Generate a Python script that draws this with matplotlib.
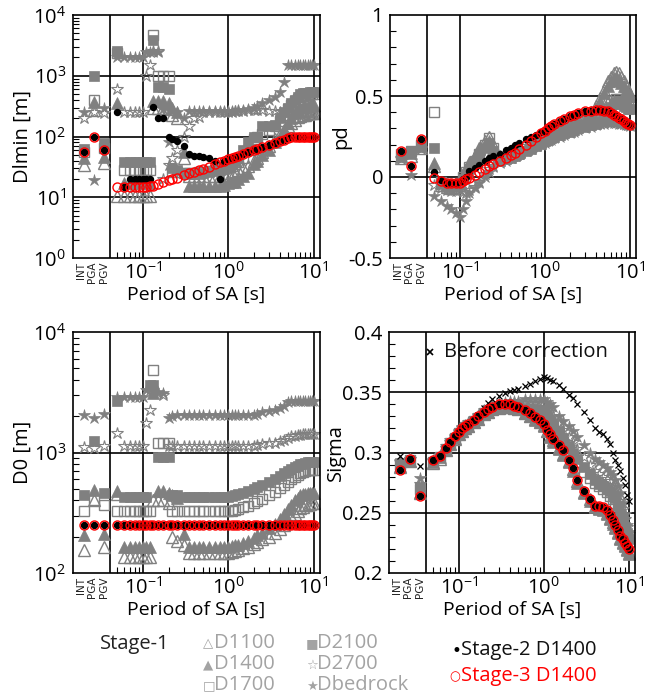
import numpy as np
import matplotlib
matplotlib.use("Agg")
import matplotlib.pyplot as plt
from matplotlib.ticker import FixedLocator, NullFormatter, LogLocator, MultipleLocator

plt.rcParams['font.family'] = ['Open Sans', 'DejaVu Sans']
plt.rcParams['mathtext.default'] = 'regular'
plt.rcParams['axes.unicode_minus'] = False

# SA periods [s]; every series below lists INT, PGA, PGV first, then one value per period
periods = [0.05, 0.06, 0.07, 0.08, 0.09, 0.10, 0.11, 0.12, 0.13, 0.15,
           0.17, 0.20, 0.22, 0.25, 0.30, 0.35, 0.40, 0.45, 0.50, 0.60,
           0.70, 0.80, 0.90, 1.0, 1.1, 1.2, 1.3, 1.5, 1.7, 2.0,
           2.2, 2.5, 3.0, 3.5, 4.0, 4.5, 5.0, 5.5, 6.0, 6.5,
           7.0, 7.5, 8.0, 8.5, 9.0, 9.5, 10.0]
cat_names = ['INT', 'PGA', 'PGV']
stage1_names = ['D1100', 'D1400', 'D1700', 'D2100', 'D2700', 'Dbedrock']

# ---- Dlmin [m]
dlmin_d1100 = [34, 270, 37,
               10.5, 10.5, 10.5, 10.5, 10.5, 10.5, 10.5, 10.5, 290, 290,
               290, 280, 230, 200, 45, 22, 22, 22, 22, 22,
               22, 22, 23, 25, 26, 27, 28, 30, 33, 40,
               45, 55, 70, 90, 110, 130, 150, 170, 190, 210,
               220, 225, 230, 235, 240, 240, 240]
dlmin_d1400 = [45, 370, 46,
               350, 17, 17, 17, 17, 17, 17, 17, 380, 380,
               380, 350, 300, 250, 55, 15.5, 15.5, 15.5, 15.5, 15.5,
               15.5, 15.5, 16, 17, 18, 18, 20, 22, 25, 35,
               40, 50, 60, 80, 100, 130, 170, 200, 240, 270,
               300, 310, 320, 320, 330, 330, 330]
dlmin_d1700 = [55, 400, 65,
               2400, 28, 28, 28, 28, 28, 28, 28, 4700, 1000,
               1000, 1000, 26, 26, 25, 25, 25, 26, 26, 27,
               28, 29, 30, 31, 33, 35, 38, 45, 60, 90,
               100, 110, 130, 150, 180, 230, 280, 330, 380, 420,
               450, 470, 480, 490, 500, 500, 500]
dlmin_d2100 = [62, 1000, 78,
               2600, 38, 38, 38, 38, 38, 38, 38, 3900, 650,
               650, 600, 30, 28, 25, 24, 24, 24, 25, 26,
               27, 28, 29, 30, 35, 40, 45, 60, 80, 100,
               100, 150, 150, 155, 200, 250, 300, 350, 400, 450,
               500, 520, 520, 530, 540, 540, 540]
dlmin_d2700 = [200, 250, 245,
               600, 250, 250, 250, 250, 250, 1000, 1500, 2600, 2600,
               20, 34, 45, 60, 100, 150, 200, 210, 250, 250,
               250, 250, 250, 250, 255, 260, 260, 265, 270, 270,
               270, 270, 265, 260, 255, 250, 245, 240, 240, 240,
               240, 240, 240, 240, 240, 240, 240]
dlmin_bedrock = [255, 19.5, 300,
                 2000, 2000, 2000, 2000, 2000, 2000, 2500, 2500, 2500, 2500,
                 280, 80, 260, 250, 200, 260, 260, 260, 260, 260,
                 260, 260, 260, 260, 260, 265, 270, 275, 280, 300,
                 320, 350, 400, 450, 550, 800, 1500, 1500, 1500, 1500,
                 1500, 1500, 1500, 1500, 1500, 1500, 1500]
dlmin_stage2 = [56, 100, 60,
                250, 15, 20, 20, 20, 20, 20, 20, 310, 205,
                205, 100, 92, 85, 70, 52, 48, 47, 46, 45,
                40, 20, 40, 42, 44, 46, 48, 51, 55, 59,
                62, 66, 72, 78, 84, 89, 93, 97, 100, 100,
                100, 100, 100, 100, 100, 100, 100]
dlmin_stage3 = [56, 100, 60,
                15, 15, 15, 15, 15, 15, 15, 15.5, 15.5, 16.5,
                17.5, 19, 20, 21, 23, 25, 26.5, 28, 29.5, 32,
                35, 37.5, 40, 42, 44, 46, 48, 51, 55, 59,
                62, 66, 72, 78, 84, 89, 93, 97, 100, 100,
                100, 100, 100, 100, 100, 100, 100]

# ---- pd
pd_d1100 = [0.12, 0.13, 0.18,
            0.07, -0.05, -0.06, -0.065, -0.06, -0.04, 0.0, 0.04, 0.08, 0.13,
            0.18, 0.22, 0.25, 0.20, 0.13, 0.13, 0.14, 0.15, 0.16, 0.18,
            0.20, 0.22, 0.235, 0.25, 0.26, 0.27, 0.28, 0.30, 0.31, 0.33,
            0.34, 0.35, 0.37, 0.40, 0.44, 0.49, 0.54, 0.59, 0.62, 0.645,
            0.65, 0.64, 0.62, 0.59, 0.56, 0.53, 0.51]
pd_d1400 = [0.13, 0.15, 0.19,
            0.085, -0.04, -0.05, -0.055, -0.05, -0.03, 0.01, 0.05, 0.09, 0.13,
            0.17, 0.20, 0.22, 0.17, 0.12, 0.125, 0.135, 0.145, 0.155, 0.175,
            0.195, 0.215, 0.23, 0.245, 0.255, 0.265, 0.275, 0.29, 0.305, 0.32,
            0.33, 0.34, 0.36, 0.38, 0.42, 0.47, 0.52, 0.56, 0.59, 0.61,
            0.615, 0.60, 0.58, 0.56, 0.54, 0.52, 0.50]
pd_d1700 = [0.14, 0.16, 0.20,
            0.40, -0.03, -0.045, -0.05, -0.05, -0.035, 0.0, 0.03, 0.06, 0.10,
            0.14, 0.20, 0.24, 0.18, 0.11, 0.12, 0.13, 0.14, 0.15, 0.17,
            0.185, 0.20, 0.215, 0.23, 0.24, 0.25, 0.26, 0.27, 0.28, 0.29,
            0.30, 0.31, 0.32, 0.33, 0.34, 0.36, 0.39, 0.42, 0.45, 0.47,
            0.48, 0.48, 0.47, 0.46, 0.45, 0.44, 0.43]
pd_d2100 = [0.13, 0.16, 0.19,
            0.18, -0.035, -0.05, -0.055, -0.055, -0.04, -0.01, 0.02, 0.05, 0.09,
            0.13, 0.18, 0.21, 0.16, 0.10, 0.11, 0.12, 0.13, 0.14, 0.16,
            0.175, 0.19, 0.205, 0.22, 0.23, 0.24, 0.25, 0.26, 0.27, 0.28,
            0.29, 0.30, 0.31, 0.32, 0.33, 0.345, 0.37, 0.40, 0.43, 0.45,
            0.46, 0.46, 0.45, 0.44, 0.43, 0.42, 0.42]
pd_d2700 = [0.12, 0.14, 0.18,
            -0.05, -0.07, -0.08, -0.085, -0.085, -0.08, -0.09, -0.10, -0.08, -0.06,
            -0.03, 0.02, 0.05, 0.07, 0.09, 0.11, 0.12, 0.135, 0.145, 0.165,
            0.18, 0.195, 0.21, 0.22, 0.23, 0.24, 0.25, 0.26, 0.27, 0.28,
            0.29, 0.30, 0.31, 0.32, 0.33, 0.335, 0.34, 0.345, 0.345, 0.345,
            0.345, 0.34, 0.335, 0.33, 0.325, 0.32, 0.32]
pd_bedrock = [0.11, 0.015, 0.17,
              -0.12, -0.15, -0.18, -0.20, -0.22, -0.245, -0.20, -0.15, -0.10, -0.07,
              -0.04, 0.0, 0.03, 0.06, 0.085, 0.10, 0.115, 0.13, 0.14, 0.16,
              0.175, 0.19, 0.20, 0.21, 0.22, 0.23, 0.24, 0.25, 0.26, 0.27,
              0.28, 0.29, 0.30, 0.31, 0.32, 0.325, 0.33, 0.335, 0.335, 0.335,
              0.335, 0.33, 0.33, 0.325, 0.32, 0.32, 0.315]
pd_stage2 = [0.158, 0.065, 0.232,
             0.03, -0.02, -0.035, -0.04, -0.04, -0.03, -0.015, 0.0, 0.035, 0.055,
             0.075, 0.10, 0.115, 0.13, 0.145, 0.165, 0.18, 0.195, 0.21, 0.235,
             0.25, 0.26, 0.275, 0.287, 0.30, 0.315, 0.325, 0.345, 0.36, 0.375,
             0.385, 0.395, 0.405, 0.41, 0.415, 0.415, 0.41, 0.405, 0.395, 0.385,
             0.375, 0.365, 0.355, 0.345, 0.335, 0.325, 0.32]
pd_stage3 = [0.158, 0.065, 0.232,
             -0.005, -0.025, -0.035, -0.04, -0.04, -0.035, -0.025, -0.015, -0.005, 0.01,
             0.03, 0.05, 0.065, 0.08, 0.10, 0.115, 0.135, 0.15, 0.17, 0.20,
             0.225, 0.25, 0.27, 0.287, 0.30, 0.315, 0.325, 0.345, 0.36, 0.375,
             0.385, 0.395, 0.405, 0.41, 0.415, 0.415, 0.41, 0.405, 0.395, 0.385,
             0.375, 0.365, 0.355, 0.345, 0.335, 0.325, 0.32]

# ---- D0 [m]
d0_d1100 = [155, 400, 165,
            450, 135, 135, 135, 135, 135, 135, 135, 400, 400,
            400, 380, 200, 185, 170, 147, 147, 147, 147, 147,
            147, 147, 147, 147, 150, 152, 155, 160, 165, 175,
            180, 190, 200, 215, 230, 250, 270, 290, 310, 330,
            345, 355, 365, 370, 375, 378, 380]
d0_d1400 = [205, 490, 210,
            480, 165, 165, 165, 165, 165, 165, 165, 3100, 480,
            480, 460, 440, 420, 210, 165, 165, 165, 165, 165,
            165, 165, 165, 165, 167, 170, 172, 178, 185, 195,
            205, 215, 235, 255, 280, 310, 340, 370, 400, 420,
            440, 450, 455, 460, 460, 460, 460]
d0_d1700 = [330, 400, 370,
            325, 325, 325, 325, 325, 325, 325, 325, 4800, 1200,
            1200, 1200, 330, 325, 325, 325, 325, 325, 325, 325,
            325, 325, 325, 325, 330, 335, 340, 350, 360, 380,
            395, 410, 440, 470, 510, 540, 570, 600, 630, 650,
            670, 690, 700, 710, 715, 720, 720]
d0_d2100 = [440, 1250, 460,
            2700, 430, 430, 430, 430, 430, 430, 3600, 3600, 920,
            920, 920, 440, 440, 430, 430, 430, 430, 430, 430,
            430, 430, 430, 430, 435, 440, 450, 460, 475, 500,
            520, 540, 570, 600, 640, 670, 700, 730, 760, 780,
            800, 810, 820, 830, 840, 840, 840]
d0_d2700 = [1120, 1080, 1130,
            1450, 1130, 1130, 1130, 1130, 1130, 1750, 2250, 3100, 3100,
            3000, 1130, 1130, 1130, 1130, 1130, 1130, 1130, 1130, 1130,
            1130, 1130, 1130, 1130, 1130, 1130, 1130, 1130, 1130, 1130,
            1150, 1170, 1190, 1210, 1240, 1280, 1320, 1360, 1380, 1400,
            1410, 1420, 1420, 1420, 1420, 1420, 1420]
d0_bedrock = [2050, 1950, 2100,
              2900, 2900, 2900, 2900, 2900, 2900, 3300, 3300, 3300, 3200,
              3100, 1950, 2000, 2050, 2050, 2050, 2050, 2050, 2050, 2050,
              2050, 2050, 2050, 2050, 2050, 2050, 2050, 2050, 2050, 2050,
              2100, 2150, 2200, 2250, 2350, 2450, 2600, 2700, 2700, 2700,
              2700, 2700, 2700, 2700, 2700, 2700, 2700]
d0_stage2 = [250] * 50
d0_stage3 = [250] * 50

# ---- Sigma
sigma_d1100 = [0.288, 0.293, 0.266,
               0.291, 0.295, 0.302, 0.307, 0.311, 0.315, 0.318, 0.320, 0.322, 0.325,
               0.328, 0.332, 0.334, 0.336, 0.337, 0.338, 0.338, 0.337, 0.336, 0.333,
               0.330, 0.328, 0.325, 0.323, 0.318, 0.314, 0.310, 0.304, 0.299, 0.293,
               0.286, 0.276, 0.267, 0.261, 0.256, 0.254, 0.253, 0.250, 0.246, 0.242,
               0.238, 0.234, 0.229, 0.226, 0.223, 0.220, 0.217]
sigma_d1400 = [0.289, 0.293, 0.267,
               0.292, 0.296, 0.302, 0.307, 0.312, 0.315, 0.318, 0.320, 0.322, 0.325,
               0.328, 0.332, 0.334, 0.336, 0.337, 0.338, 0.338, 0.337, 0.336, 0.333,
               0.330, 0.327, 0.325, 0.322, 0.318, 0.313, 0.309, 0.303, 0.298, 0.292,
               0.285, 0.275, 0.266, 0.260, 0.255, 0.253, 0.252, 0.249, 0.245, 0.241,
               0.237, 0.233, 0.228, 0.225, 0.222, 0.219, 0.216]
sigma_d1700 = [0.290, 0.294, 0.270,
               0.292, 0.296, 0.303, 0.308, 0.312, 0.316, 0.319, 0.321, 0.323, 0.326,
               0.329, 0.333, 0.335, 0.337, 0.338, 0.338, 0.338, 0.338, 0.337, 0.336,
               0.335, 0.334, 0.333, 0.333, 0.329, 0.325, 0.321, 0.315, 0.309, 0.302,
               0.297, 0.292, 0.284, 0.279, 0.275, 0.272, 0.270, 0.267, 0.264, 0.261,
               0.258, 0.252, 0.246, 0.240, 0.235, 0.230, 0.226]
sigma_d2100 = [0.291, 0.294, 0.271,
               0.292, 0.296, 0.303, 0.308, 0.312, 0.316, 0.319, 0.321, 0.323, 0.326,
               0.329, 0.333, 0.335, 0.337, 0.338, 0.339, 0.339, 0.339, 0.338, 0.337,
               0.336, 0.336, 0.335, 0.335, 0.331, 0.327, 0.323, 0.318, 0.312, 0.305,
               0.300, 0.295, 0.288, 0.282, 0.277, 0.274, 0.272, 0.270, 0.268, 0.265,
               0.262, 0.256, 0.250, 0.244, 0.238, 0.233, 0.228]
sigma_d2700 = [0.292, 0.295, 0.274,
               0.293, 0.297, 0.304, 0.309, 0.313, 0.317, 0.320, 0.322, 0.324, 0.327,
               0.330, 0.334, 0.336, 0.338, 0.339, 0.340, 0.341, 0.341, 0.341, 0.341,
               0.341, 0.341, 0.340, 0.340, 0.337, 0.334, 0.330, 0.324, 0.319, 0.313,
               0.309, 0.303, 0.296, 0.290, 0.285, 0.282, 0.280, 0.278, 0.276, 0.273,
               0.270, 0.265, 0.260, 0.253, 0.245, 0.238, 0.232]
sigma_bedrock = [0.293, 0.295, 0.279,
                 0.294, 0.298, 0.305, 0.310, 0.314, 0.318, 0.321, 0.323, 0.325, 0.328,
                 0.331, 0.335, 0.337, 0.339, 0.341, 0.342, 0.343, 0.343, 0.343, 0.344,
                 0.344, 0.344, 0.344, 0.344, 0.342, 0.340, 0.338, 0.330, 0.326, 0.322,
                 0.318, 0.313, 0.306, 0.300, 0.295, 0.292, 0.290, 0.287, 0.284, 0.281,
                 0.277, 0.272, 0.266, 0.258, 0.249, 0.240, 0.234]
sigma_before = [0.2975, 0.2955, 0.2885,
                0.2935, 0.297, 0.304, 0.309, 0.3135, 0.317, 0.320, 0.322, 0.324, 0.327,
                0.331, 0.337, 0.341, 0.344, 0.347, 0.349, 0.351, 0.352, 0.353, 0.355,
                0.357, 0.359, 0.361, 0.3625, 0.362, 0.3605, 0.359, 0.356, 0.353, 0.348,
                0.345, 0.340, 0.334, 0.327, 0.320, 0.317, 0.315, 0.311, 0.307, 0.300,
                0.294, 0.290, 0.285, 0.279, 0.273, 0.265, 0.260]
sigma_stage3 = [0.2855, 0.2945, 0.2635,
                0.2935, 0.297, 0.304, 0.309, 0.3135, 0.317, 0.320, 0.322, 0.324, 0.327,
                0.330, 0.334, 0.336, 0.338, 0.340, 0.3405, 0.340, 0.339, 0.3375, 0.335,
                0.3325, 0.3295, 0.327, 0.324, 0.319, 0.315, 0.311, 0.306, 0.302, 0.294,
                0.287, 0.277, 0.268, 0.261, 0.256, 0.2555, 0.255, 0.252, 0.248, 0.244,
                0.240, 0.236, 0.231, 0.228, 0.225, 0.2225, 0.220]
sigma_stage2 = list(sigma_stage3)

# ---- axis layout
cat_x = [10 ** -1.694, 10 ** -1.576, 10 ** -1.459]   # where INT, PGA, PGV sit
cat_label_x = [10 ** -1.725, 10 ** -1.595, 10 ** -1.46]
sep_x = 10 ** -1.388
x_lo, x_hi = 10 ** -1.82, 10 ** 1.075
x_all = cat_x + periods
minor_x = [0.05, 0.06, 0.07, 0.08, 0.09, 0.2, 0.3, 0.4, 0.5, 0.6, 0.7, 0.8, 0.9,
           2, 3, 4, 5, 6, 7, 8, 9]

GRAY = '#808080'
LEG_GRAY = '#a3a3a3'
TICK_FS = 14.5
stage1_styles = [
    dict(marker='^', ms=9, mfc='none', mec=GRAY, mew=1.0),
    dict(marker='^', ms=9, mfc=GRAY, mec=GRAY, mew=0.5),
    dict(marker='s', ms=7, mfc='none', mec=GRAY, mew=1.0),
    dict(marker='s', ms=7, mfc=GRAY, mec=GRAY, mew=0.5),
    dict(marker='*', ms=9, mfc='none', mec=GRAY, mew=0.8),
    dict(marker='*', ms=9, mfc=GRAY, mec=GRAY, mew=0.5),
]

W, H = 652, 695
fig = plt.figure(figsize=(W / 100, H / 100), dpi=100)


def add_panel(left, top, right, bottom):
    return fig.add_axes([left / W, 1 - bottom / H, (right - left) / W, (bottom - top) / H])


def style_x(ax):
    ax.set_xscale('log')
    ax.set_xlim(x_lo, x_hi)
    ax.xaxis.set_major_locator(FixedLocator([0.1, 1, 10]))
    ax.set_xticklabels(['10$^{-1}$', '10$^{0}$', '10$^{1}$'])
    ax.xaxis.set_minor_locator(FixedLocator(minor_x))
    ax.xaxis.set_minor_formatter(NullFormatter())
    ax.tick_params(axis='x', which='major', length=0, pad=3, labelsize=TICK_FS)
    ax.tick_params(axis='x', which='minor', direction='in', length=4, width=0.8)
    # INT / PGA / PGV names stand upright under the left strip
    for xv, name in zip(cat_label_x, cat_names):
        ax.text(xv, -0.015, name, transform=ax.get_xaxis_transform(), rotation=90,
                ha='center', va='top', fontsize=7.5, family='DejaVu Sans',
                color='#222222')
    for xv in [sep_x, 0.1, 1, 10]:
        ax.axvline(xv, color='black', lw=1.2, zorder=1)
    ax.set_xlabel('Period of SA [s]', fontsize=14, labelpad=1)
    for sp in ax.spines.values():
        sp.set_linewidth(1.2)


def style_y(ax, lo, hi, majors, labels, lines, ylabel, label_x, log=False, minor_step=None):
    if log:
        ax.set_yscale('log')
    ax.set_ylim(lo, hi)
    ax.yaxis.set_major_locator(FixedLocator(majors))
    ax.set_yticklabels(labels)
    if log:
        ax.yaxis.set_minor_locator(LogLocator(base=10, subs=np.arange(2, 10), numticks=20))
    else:
        ax.yaxis.set_minor_locator(MultipleLocator(minor_step))
    ax.yaxis.set_minor_formatter(NullFormatter())
    ax.tick_params(axis='y', which='major', length=0, pad=5, labelsize=TICK_FS)
    ax.tick_params(axis='y', which='minor', direction='in', length=4, width=0.8)
    for yv in lines:
        ax.axhline(yv, color='black', lw=1.2, zorder=1)
    ax.set_ylabel(ylabel, fontsize=14.5, va='center')
    ax.yaxis.set_label_coords(label_x, 0.5)


def draw_series(ax, stage1, stage2, stage3):
    for vals, st in zip(stage1, stage1_styles):
        ax.plot(x_all, vals, ls='none', zorder=2, **st)
    ax.plot(x_all, stage2, ls='none', marker='o', ms=4.3, color='black', zorder=4)
    ax.plot(x_all, stage3, ls='none', marker='o', ms=6.5, mfc='none', mec='red',
            mew=1.0, zorder=5)


dec_labels = ['10$^{0}$', '10$^{1}$', '10$^{2}$', '10$^{3}$', '10$^{4}$']

# Dlmin
ax1 = add_panel(73, 15, 320, 258)
draw_series(ax1, [dlmin_d1100, dlmin_d1400, dlmin_d1700, dlmin_d2100, dlmin_d2700, dlmin_bedrock],
            dlmin_stage2, dlmin_stage3)
style_x(ax1)
style_y(ax1, 1, 1e4, [1, 10, 100, 1000, 1e4], dec_labels, [10, 100, 1000], 'Dlmin [m]',
        -0.205, log=True)

# pd
ax2 = add_panel(390, 15, 636, 258)
draw_series(ax2, [pd_d1100, pd_d1400, pd_d1700, pd_d2100, pd_d2700, pd_bedrock],
            pd_stage2, pd_stage3)
style_x(ax2)
style_y(ax2, -0.5, 1, [-0.5, 0, 0.5, 1], ['-0.5', '0', '0.5', '1'], [0, 0.5], 'pd',
        -0.2, minor_step=0.1)

# D0
ax3 = add_panel(73, 332, 320, 573)
draw_series(ax3, [d0_d1100, d0_d1400, d0_d1700, d0_d2100, d0_d2700, d0_bedrock],
            d0_stage2, d0_stage3)
style_x(ax3)
style_y(ax3, 100, 1e4, [100, 1000, 1e4], dec_labels[2:], [1000], 'D0 [m]', -0.205, log=True)

# Sigma
ax4 = add_panel(389, 332, 635, 573)
draw_series(ax4, [sigma_d1100, sigma_d1400, sigma_d1700, sigma_d2100, sigma_d2700, sigma_bedrock],
            sigma_stage2, sigma_stage3)
ax4.plot(x_all, sigma_before, ls='none', marker='x', ms=5, mew=0.9, color='black', zorder=3)
style_x(ax4)
style_y(ax4, 0.2, 0.4, [0.2, 0.25, 0.3, 0.35, 0.4], ['0.2', '0.25', '0.3', '0.35', '0.4'],
        [0.25, 0.3, 0.35], 'Sigma', -0.215, minor_step=0.01)
ax4.plot([0.167], [0.917], transform=ax4.transAxes, ls='none', marker='x', ms=5,
         mew=1.2, color='black', clip_on=False)
ax4.text(0.225, 0.917, 'Before correction', transform=ax4.transAxes, fontsize=14.5,
         va='center', ha='left', color='#111111')

# legend beneath the panels
def ftext(x, y, s, **kw):
    fig.text(x / W, 1 - y / H, s, va='center', ha='left', **kw)

ftext(100, 644, 'Stage-1', fontsize=14.5, color='#222222')
glyphs = ['\u25b3', '\u25b2', '\u25a1', '\u25a0', '\u2606', '\u2605']
cols = [(203, 214), (203, 214), (203, 214), (306, 317), (306, 317), (306, 317)]
rows = [643, 664, 685, 643, 664, 685]
for g, name, (gx, tx), ry in zip(glyphs, stage1_names, cols, rows):
    ftext(gx, ry + 1, g, fontsize=9.5, color=LEG_GRAY, family='DejaVu Sans')
    ftext(tx, ry, name, fontsize=14.5, color=LEG_GRAY)
ftext(451, 651, '\u2022', fontsize=12, color='black', family='DejaVu Sans')
ftext(461, 650, 'Stage-2 D1400', fontsize=14.5, color='#111111')
ftext(449, 677, '\u25cb', fontsize=9, color='red', family='DejaVu Sans')
ftext(461, 676, 'Stage-3 D1400', fontsize=14.5, color='red')

fig.savefig('out.png', dpi=100)
